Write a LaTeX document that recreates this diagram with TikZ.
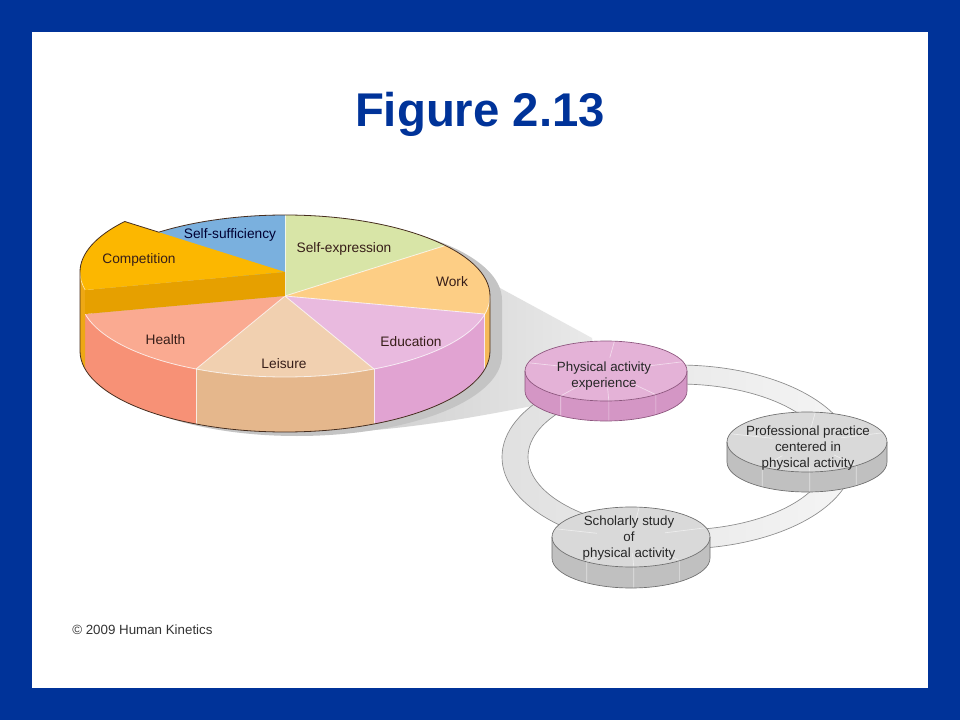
\documentclass[tikz,border=0pt]{standalone}
\usepackage{fontspec}
\setmainfont{Liberation Sans}
\usetikzlibrary{calc}
\definecolor{frameblue}{RGB}{0,51,153}
\definecolor{titleblue}{RGB}{0,51,153}
\definecolor{ssuf}{RGB}{122,176,222}
\definecolor{sexp}{RGB}{216,229,167}
\definecolor{worktop}{RGB}{253,206,133}
\definecolor{workside}{RGB}{246,186,88}
\definecolor{edutop}{RGB}{233,186,223}
\definecolor{eduside}{RGB}{225,163,210}
\definecolor{leitop}{RGB}{241,208,176}
\definecolor{leiside}{RGB}{229,183,140}
\definecolor{heatop}{RGB}{250,170,145}
\definecolor{heaside}{RGB}{247,145,118}
\definecolor{comptop}{RGB}{252,183,0}
\definecolor{compband}{RGB}{230,160,0}
\definecolor{compside}{RGB}{238,168,20}
\definecolor{pieline}{RGB}{70,45,30}
\definecolor{labeltext}{RGB}{55,30,25}
\definecolor{pinktop}{RGB}{228,178,215}
\definecolor{pinkside}{RGB}{212,150,197}
\definecolor{pinkline}{RGB}{140,85,125}
\definecolor{greytop}{RGB}{217,217,217}
\definecolor{greyside}{RGB}{192,192,192}
\definecolor{greyline}{RGB}{110,110,110}
\definecolor{ringline}{RGB}{140,140,140}
\definecolor{shadowc}{RGB}{196,196,196}
\definecolor{funnelA}{RGB}{200,200,200}
\definecolor{funnelB}{RGB}{234,234,234}
\tikzset{
  pier/.style={x radius=205, y radius=81},
  pielabel/.style={font=\fontsize{10.3}{12}\selectfont, text=labeltext, inner sep=0pt},
  disclabel/.style={font=\fontsize{10}{12}\selectfont, align=center, text=black!85, inner sep=0pt},
  slicesep/.style={white, opacity=0.75, line width=0.6pt},
  discsep/.style={white, opacity=0.55, line width=0.5pt},
}
\newcommand\drawdisc[8]{%
  \fill[#7] (#1,#2) ++(0:#3 and #4) -- ++(0,#5) arc[start angle=0,end angle=180,x radius=#3,y radius=#4] -- ++(0,-#5) arc[start angle=180,end angle=0,x radius=#3,y radius=#4] -- cycle;
  \fill[#6] (#1,#2) ellipse[x radius=#3,y radius=#4];
  \foreach \a in {-84,-18,196} {
    \path (#1,#2) ++(\a:#3 and #4) coordinate (rimpt);
    \draw[discsep] ($(#1,#2)!0.45!(rimpt)$) -- (rimpt);
  }
  \foreach \a in {52,88,124} {
    \path (#1,#2) ++(\a:#3 and #4) coordinate (rimpt);
    \draw[discsep] ($(#1,#2)!0.55!(rimpt)$) -- (rimpt) -- ++(0,#5);
  }
  \draw[#8, line width=0.5pt] (#1,#2) ellipse[x radius=#3,y radius=#4];
  \draw[#8, line width=0.5pt] (#1,#2) ++(0:#3 and #4) -- ++(0,#5) arc[start angle=0,end angle=180,x radius=#3,y radius=#4] -- ++(0,-#5);
}
\begin{document}
\begin{tikzpicture}[x=0.75pt,y=-0.75pt]
\useasboundingbox (0,0) rectangle (960,720);
\fill[frameblue] (0,0) rectangle (960,720);
\fill[white] (32,32) rectangle (928,688);

\node[font=\fontsize{35.5}{40}\selectfont\bfseries, text=titleblue, anchor=base, inner sep=0pt] (title) at (480,127) {Figure 2.13};
\node[font=\fontsize{10}{12}\selectfont, text=black!80, anchor=base west, inner sep=0pt] (copyright) at (72,634) {© 2009 Human Kinetics};

% funnel towards the small disc
\shade[left color=funnelA, right color=funnelB] (430,250) -- (592,338) -- (600,395) -- (527,407) .. controls (460,420) and (380,434) .. (300,433) -- (300,380) -- cycle;

% shadow of the pie
\fill[shadowc] (297,300) ++(180:205 and 81) arc[pier,start angle=180,end angle=360] -- ++(0,55) arc[pier,start angle=0,end angle=180] -- cycle;

% sides
\fill[workside] (285,296) ++(0:205 and 81) arc[pier,start angle=0,end angle=12.86] -- ++(0,55) arc[pier,start angle=12.86,end angle=0] -- cycle;
\fill[eduside] (285,296) ++(12.86:205 and 81) arc[pier,start angle=12.86,end angle=64.29] -- ++(0,55) arc[pier,start angle=64.29,end angle=12.86] -- cycle;
\fill[leiside] (285,296) ++(64.29:205 and 81) arc[pier,start angle=64.29,end angle=115.71] -- ++(0,55) arc[pier,start angle=115.71,end angle=64.29] -- cycle;
\fill[heaside] (285,296) ++(115.71:205 and 81) arc[pier,start angle=115.71,end angle=167.14] -- ++(0,55) arc[pier,start angle=167.14,end angle=115.71] -- cycle;

% tops
\fill[sexp] (285,296) -- ++(-90:205 and 81) arc[pier,start angle=-90,end angle=-38.57] -- cycle;
\fill[worktop] (285,296) -- ++(-38.57:205 and 81) arc[pier,start angle=-38.57,end angle=12.86] -- cycle;
\fill[edutop] (285,296) -- ++(12.86:205 and 81) arc[pier,start angle=12.86,end angle=64.29] -- cycle;
\fill[leitop] (285,296) -- ++(64.29:205 and 81) arc[pier,start angle=64.29,end angle=115.71] -- cycle;
\fill[heatop] (285,296) -- ++(115.71:205 and 81) arc[pier,start angle=115.71,end angle=167.14] -- cycle;
\fill[ssuf] (285,296) -- ++(218.57:205 and 81) arc[pier,start angle=218.57,end angle=270] -- cycle;

% separators
\foreach \a in {-90,-38.57,12.86,64.29,115.71} {
  \draw[slicesep] (285,296) -- ++(\a:205 and 81);
}
\foreach \a in {12.86,64.29,115.71} {
  \draw[slicesep] (285,296) ++(\a:205 and 81) -- ++(0,55);
}
\draw[slicesep] (285,296) ++(0:205 and 81) arc[pier,start angle=0,end angle=167.14];

% raised competition slice
\fill[compside] (285,272) ++(167.14:205 and 81) arc[pier,start angle=167.14,end angle=180] -- ++(0,79) arc[pier,start angle=180,end angle=167.14] -- cycle;
\fill[compband] (285,296) -- ++(167.14:205 and 81) -- ++(0,-24) -- (285,272) -- cycle;
\fill[comptop] (285,272) -- ++(167.14:205 and 81) arc[pier,start angle=167.14,end angle=218.57] -- cycle;
\draw[slicesep, opacity=0.5] (285,272) ++(167.14:205 and 81) arc[pier,start angle=167.14,end angle=180];

% outline
\path (285,272) ++(218.57:205 and 81) coordinate (peak);
\draw[pieline, line width=0.6pt, line join=round] (285,296) ++(0:205 and 81) arc[pier,start angle=0,end angle=-128.0] -- (peak) arc[pier,start angle=218.57,end angle=180] -- ++(0,79) arc[pier,start angle=180,end angle=0] -- cycle;

% pie labels
\node[pielabel, text=black!80!blue] (lssuf) at (230,235) {Self-sufficiency};
\node[pielabel] (lsexp) at (344,249) {Self-expression};
\node[pielabel] (lcomp) at (139,260) {Competition};
\node[pielabel] (lwork) at (452,282) {Work};
\node[pielabel] (lhealth) at (165.5,340) {Health};
\node[pielabel] (ledu) at (411,342) {Education};
\node[pielabel] (lleis) at (284,364) {Leisure};

% ring
\shade[even odd rule, left color=gray!24, right color=gray!8] (678,457) ellipse[x radius=176,y radius=92] (678,457) ellipse[x radius=150,y radius=73];
\draw[ringline, line width=0.5pt] (678,457) ellipse[x radius=176,y radius=92];
\draw[ringline, line width=0.5pt] (678,457) ellipse[x radius=150,y radius=73];

% discs
\drawdisc{606}{371}{81}{30}{20}{pinktop}{pinkside}{pinkline}
\drawdisc{807}{442}{80}{30}{20}{greytop}{greyside}{greyline}
\drawdisc{631}{537}{79}{30}{21}{greytop}{greyside}{greyline}

\node[disclabel] (pa) at (604,376.5) {Physical activity\\experience};
\node[disclabel] (pp) at (808,448) {Professional practice\\centered in\\physical activity};
\node[disclabel] (ss) at (629,538) {Scholarly study\\of\\physical activity};
\end{tikzpicture}
\end{document}
